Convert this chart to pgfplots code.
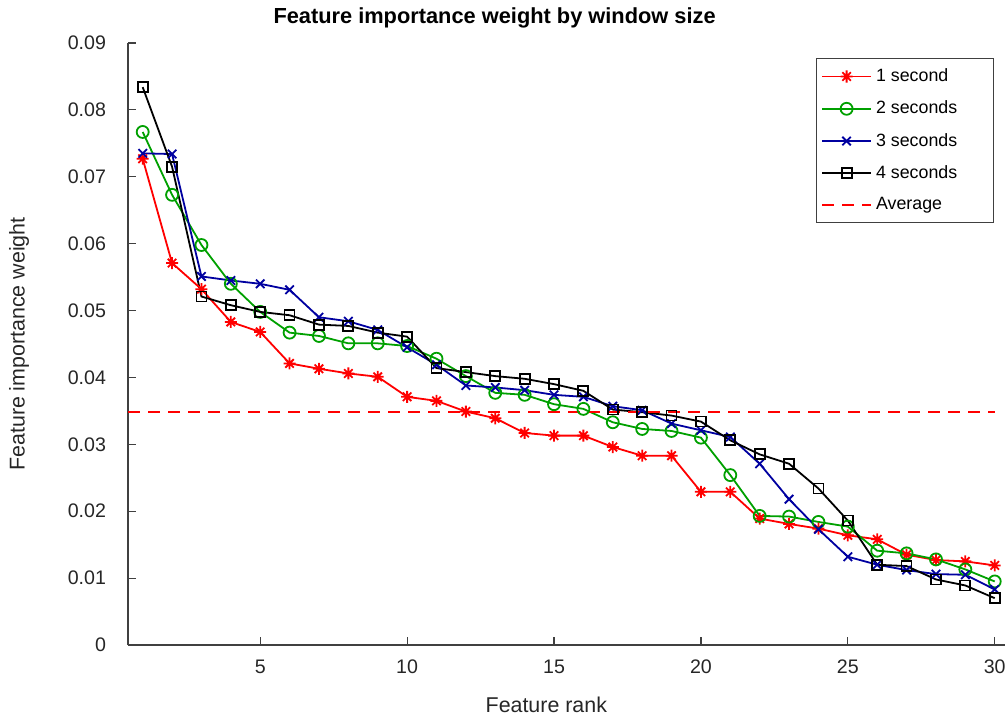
\documentclass[border=0pt]{standalone}
\usepackage{pgfplots}
\pgfplotsset{compat=1.18}
\usepackage{fontspec}
\setmainfont{Liberation Sans}
\usetikzlibrary{calc}
\definecolor{cRed}{RGB}{255,0,0}
\definecolor{cGreen}{RGB}{0,160,0}
\definecolor{cBlue}{RGB}{0,0,160}
\definecolor{cAxis}{RGB}{64,64,64}
\pgfdeclareplotmark{mstar}{%
  \pgfpathmoveto{\pgfqpoint{0pt}{\pgfplotmarksize}}\pgfpathlineto{\pgfqpoint{0pt}{-\pgfplotmarksize}}%
  \pgfpathmoveto{\pgfqpoint{\pgfplotmarksize}{0pt}}\pgfpathlineto{\pgfqpoint{-\pgfplotmarksize}{0pt}}%
  \pgfpathmoveto{\pgfqpoint{.707\pgfplotmarksize}{.707\pgfplotmarksize}}\pgfpathlineto{\pgfqpoint{-.707\pgfplotmarksize}{-.707\pgfplotmarksize}}%
  \pgfpathmoveto{\pgfqpoint{-.707\pgfplotmarksize}{.707\pgfplotmarksize}}\pgfpathlineto{\pgfqpoint{.707\pgfplotmarksize}{-.707\pgfplotmarksize}}%
  \pgfusepathqstroke}
\begin{document}
\begin{tikzpicture}
\begin{axis}[
  scale only axis, width=438.5pt, height=301pt,
  xmin=0.5, xmax=30.35, ymin=0, ymax=0.09,
  axis lines=left, axis line style={-, draw=cAxis, line width=0.6pt},
  tick style={draw=cAxis, line width=0.6pt}, tick align=inside,
  major tick length=4pt,
  xtick={5,10,15,20,25,30},
  ytick={0,0.01,0.02,0.03,0.04,0.05,0.06,0.07,0.08,0.09},
  yticklabels={0,0.01,0.02,0.03,0.04,0.05,0.06,0.07,0.08,0.09},
  scaled y ticks=false,
  /pgf/number format/assume math mode=true,
  tick label style={font=\fontsize{9.8}{11}\selectfont, text=black!85},
  yticklabel style={xshift=-7.5pt},
  xticklabel style={yshift=-4pt},
  every axis plot/.append style={line width=0.9pt},
  legend style={at={(rel axis cs:0.987,0.975)}, anchor=north east,
    draw=cAxis, line width=0.5pt, font=\fontsize{8.9}{10}\selectfont,
    row sep=4.2pt, inner xsep=2.5pt, inner ysep=3pt},
  legend cell align=left,
  legend image code/.code={%
    \draw[#1] (0cm,0cm) -- (24.5pt,0cm);
    \draw[#1, only marks] plot coordinates {(12.25pt,0cm)};},
  clip=false,
]
\addplot[cRed, mark=mstar, mark size=3pt] coordinates {
(1,0.0727) (2,0.0571) (3,0.0532) (4,0.0483) (5,0.0468) (6,0.0421) (7,0.0413) (8,0.0406) (9,0.0401) (10,0.0371)
(11,0.0365) (12,0.0349) (13,0.0339) (14,0.0317) (15,0.0313) (16,0.0313) (17,0.0296) (18,0.0283) (19,0.0283) (20,0.0229)
(21,0.0229) (22,0.0189) (23,0.0181) (24,0.0174) (25,0.0164) (26,0.0158) (27,0.0135) (28,0.0127) (29,0.0125) (30,0.0119)};
\addlegendentry{\makebox[54pt][l]{1 second}}
\addplot[cGreen, mark=o, mark size=3pt] coordinates {
(1,0.0767) (2,0.0673) (3,0.0598) (4,0.0540) (5,0.0498) (6,0.0467) (7,0.0462) (8,0.0451) (9,0.0451) (10,0.0447)
(11,0.0428) (12,0.0402) (13,0.0377) (14,0.0374) (15,0.0360) (16,0.0353) (17,0.0333) (18,0.0323) (19,0.0320) (20,0.0310)
(21,0.0254) (22,0.0193) (23,0.0192) (24,0.0184) (25,0.0177) (26,0.0141) (27,0.0137) (28,0.0128) (29,0.0113) (30,0.0095)};
\addlegendentry{2 seconds}
\addplot[cBlue, mark=x, mark size=3pt] coordinates {
(1,0.0735) (2,0.0734) (3,0.0551) (4,0.0545) (5,0.0540) (6,0.0531) (7,0.0490) (8,0.0484) (9,0.0471) (10,0.0445)
(11,0.0419) (12,0.0388) (13,0.0385) (14,0.0381) (15,0.0374) (16,0.0371) (17,0.0357) (18,0.0351) (19,0.0331) (20,0.0321)
(21,0.0311) (22,0.0271) (23,0.0218) (24,0.0173) (25,0.0132) (26,0.0120) (27,0.0112) (28,0.0106) (29,0.0105) (30,0.0083)};
\addlegendentry{3 seconds}
\addplot[black, mark=square, mark size=2.5pt] coordinates {
(1,0.0834) (2,0.0715) (3,0.0521) (4,0.0508) (5,0.0498) (6,0.0493) (7,0.0479) (8,0.0477) (9,0.0467) (10,0.0461)
(11,0.0414) (12,0.0408) (13,0.0402) (14,0.0398) (15,0.0390) (16,0.0380) (17,0.0352) (18,0.0348) (19,0.0343) (20,0.0334)
(21,0.0306) (22,0.0285) (23,0.0271) (24,0.0234) (25,0.0186) (26,0.0120) (27,0.0118) (28,0.0098) (29,0.0089) (30,0.0070)};
\addlegendentry{4 seconds}
\addplot[cRed, dashed, dash pattern=on 6pt off 4pt, line width=1pt] coordinates {(0.5,0.0348) (30,0.0348)};
\addlegendentry{Average}
\coordinate (O) at (rel axis cs:0,0);
\coordinate (T) at (rel axis cs:0.418,1);
\coordinate (XL) at (rel axis cs:0.477,0);
\coordinate (YL) at (rel axis cs:0,0.5);
\end{axis}
\node[font=\bfseries\fontsize{10.9}{12}\selectfont] at ($(T)+(0pt,12.5pt)$) {Feature importance weight by window size};
\node[font=\fontsize{10.7}{12}\selectfont, text=black!85] at ($(XL)+(0pt,-30pt)$) {Feature rank};
\node[font=\fontsize{10.7}{12}\selectfont, text=black!85, rotate=90] at ($(YL)+(-54.5pt,0pt)$) {Feature importance weight};
\pgfresetboundingbox
\path[use as bounding box] ($(O)+(-64pt,-37pt)$) rectangle ($(O)+(439pt,322.5pt)$);
\end{tikzpicture}
\end{document}
